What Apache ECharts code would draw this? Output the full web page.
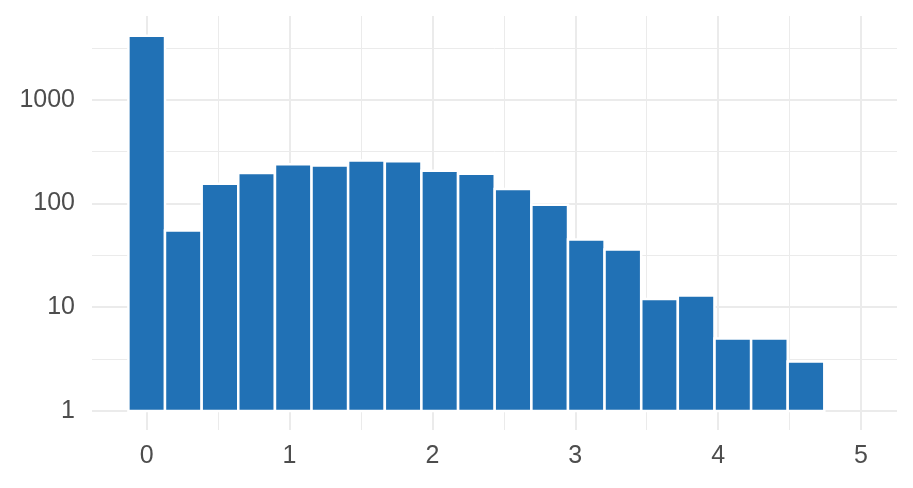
<!DOCTYPE html>
<html>
<head>
<meta charset="utf-8">
<script src="https://cdn.jsdelivr.net/npm/echarts@6/dist/echarts.min.js"></script>
<style>
html,body{margin:0;padding:0;background:#fff;}
#chart{width:913px;height:488px;}
</style>
</head>
<body>
<div id="chart"></div>
<script>
// Histogram bins (centres) and counts
const binCenters = [0, 0.256, 0.513, 0.769, 1.026, 1.282, 1.538, 1.795, 2.051, 2.308, 2.564, 2.821, 3.077, 3.333, 3.590, 3.846, 4.103, 4.359, 4.615];
const counts = [4140, 55, 155, 197, 239, 232, 259, 255, 206, 193, 138, 97, 45, 36, 12, 13, 5, 5, 3];
const binWidth = 0.2564;
const xTickValues = [0, 1, 2, 3, 4, 5];
const xMinorValues = [0.5, 1.5, 2.5, 3.5, 4.5];
const yTickValues = [1, 10, 100, 1000];
const yMinorValues = [3.1623, 31.623, 316.23, 3162.3];

const data = binCenters.map((c, i) => [c - binWidth / 2, c + binWidth / 2, counts[i]]);

const gridColor = '#EBEBEB';
const textColor = '#4D4D4D';
const fontFamily = '"Liberation Sans", Arial, Helvetica, sans-serif';

const xMin = -0.383, xMax = 5.252;
const yMin = 0.656, yMax = 6400;

const chart = echarts.init(document.getElementById('chart'), null, {renderer: 'canvas'});
chart.setOption({
  animation: false,
  backgroundColor: '#ffffff',
  grid: {left: 92, right: 16, top: 16, bottom: 58, containLabel: false},
  xAxis: [
    {
      type: 'value', min: xMin, max: xMax,
      axisLine: {show: false},
      axisTick: {show: false, customValues: xTickValues},
      axisLabel: {customValues: xTickValues, color: textColor, fontSize: 25, fontFamily: fontFamily, margin: 14,
        formatter: function (v) { return String(v); }},
      splitLine: {show: true, lineStyle: {color: gridColor, width: 2}}
    },
    {
      type: 'value', min: xMin, max: xMax, position: 'bottom',
      axisLine: {show: false},
      axisTick: {show: false, customValues: xMinorValues},
      axisLabel: {show: false, customValues: xMinorValues},
      splitLine: {show: true, lineStyle: {color: gridColor, width: 1}}
    }
  ],
  yAxis: [
    {
      type: 'log', logBase: 10, min: yMin, max: yMax,
      axisLine: {show: false},
      axisTick: {show: false, customValues: yTickValues},
      axisLabel: {customValues: yTickValues, color: textColor, fontSize: 25, fontFamily: fontFamily, margin: 17,
        formatter: function (v) { return String(Math.round(v)); }},
      splitLine: {show: true, lineStyle: {color: gridColor, width: 2}}
    },
    {
      type: 'log', logBase: 10, min: yMin, max: yMax, position: 'left',
      axisLine: {show: false},
      axisTick: {show: false, customValues: yMinorValues},
      axisLabel: {show: false, customValues: yMinorValues},
      splitLine: {show: true, lineStyle: {color: gridColor, width: 1}}
    }
  ],
  series: [{
    type: 'custom',
    xAxisIndex: 0, yAxisIndex: 0,
    data: data,
    encode: {x: [0, 1], y: 2},
    renderItem: function (params, api) {
      const p0 = api.coord([api.value(0), api.value(2)]);
      const p1 = api.coord([api.value(1), 1]);
      return {
        type: 'rect',
        shape: {x: p0[0], y: p0[1], width: p1[0] - p0[0], height: p1[1] - p0[1]},
        style: {fill: '#2171B5', stroke: '#FFFFFF', lineWidth: 2.5}
      };
    }
  }]
});
</script>
</body>
</html>
